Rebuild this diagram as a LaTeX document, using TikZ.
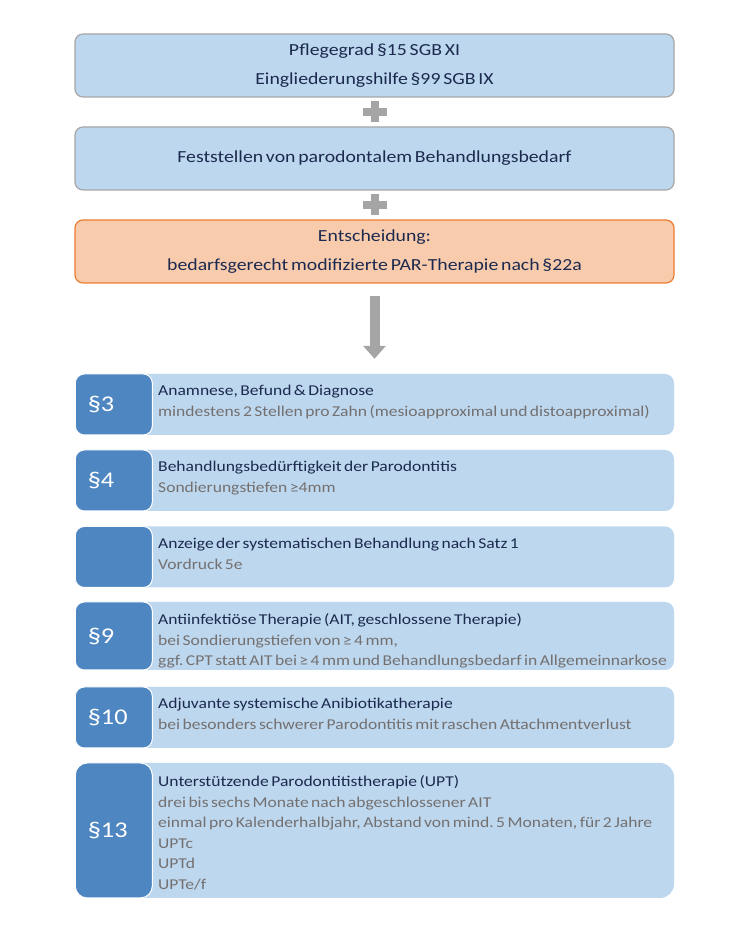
\documentclass[tikz,border=0pt]{standalone}
\usepackage{fontspec}
\setmainfont{Carlito}[FakeStretch=1.17, WordSpace=0.62]
\frenchspacing
\usetikzlibrary{arrows.meta,calc}

\definecolor{boxblue}{HTML}{BDD7EE}
\definecolor{tabblue}{HTML}{4E86C1}
\definecolor{boxgray}{HTML}{A6A6A6}
\definecolor{decfill}{HTML}{F8CBAD}
\definecolor{decline}{HTML}{ED7D31}
\definecolor{navy}{HTML}{1B2A4E}
\definecolor{subgray}{HTML}{747070}
\definecolor{plusgray}{HTML}{A5A5A5}

\tikzset{
    topbox/.style={draw=boxgray, line width=1.2pt, fill=boxblue, rounded corners=8pt,
        minimum width=599pt, minimum height=63pt, align=center, text=navy,
        font=\fontsize{16.9}{28.5}\selectfont},
    decbox/.style={topbox, draw=decline, fill=decfill},
    rowbox/.style={fill=boxblue, rounded corners=9pt, minimum width=599pt,
        minimum height=#1, inner sep=0pt},
    tabbox/.style={fill=tabblue, draw=white, line width=1pt, rounded corners=9pt,
        minimum width=77pt, minimum height=#1, text width=52pt, inner xsep=12.5pt,
        align=left, text=white, font=\fontsize{22.5}{22.5}\selectfont},
    rowtext/.style={anchor=west, align=left, text=subgray, inner sep=0pt,
        font=\fontsize{15}{20.5}\selectfont},
    bigarrow/.style={draw=plusgray, line width=10pt, -{Triangle[width=22pt,length=13pt]},
        shorten <=12pt, shorten >=15pt},
}

\begin{document}
\begin{tikzpicture}[x=1pt, y=1pt]
    \useasboundingbox (0, 0) rectangle (750, 949);
    \fill[white] (0, 0) rectangle (750, 949);

    % upper boxes
    \node[topbox] (pg)  at (374.5, 883.5) {Pflegegrad §15 SGB XI\\Eingliederungshilfe §99 SGB IX};
    \node[topbox] (fb)  at (374.5, 790.5) {Feststellen von parodontalem Behandlungsbedarf};
    \node[decbox] (ent) at (374.5, 697.5) {Entscheidung:\\bedarfsgerecht modifizierte PAR-Therapie nach §22a};

    \coordinate (p1) at ($(pg.south)!0.5!(fb.north)$);
    \coordinate (p2) at ($(fb.south)!0.5!(ent.north)$);
    \foreach \p in {p1, p2} {
        \fill[plusgray] ([shift={(-12pt, -4pt)}]\p) rectangle ([shift={(12pt, 4pt)}]\p);
        \fill[plusgray] ([shift={(-4pt, -10.5pt)}]\p) rectangle ([shift={(4pt, 10.5pt)}]\p);
    }

    % paragraphs
    \node[rowbox=61pt]  (s3)  at (374.5, 544.5) {};
    \node[rowbox=61pt]  (s4)  at (374.5, 468.5) {};
    \node[rowbox=61pt]  (sa)  at (374.5, 392) {};
    \node[rowbox=68pt]  (s9)  at (374.5, 313) {};
    \node[rowbox=61pt]  (s10) at (374.5, 231.5) {};
    \node[rowbox=135pt, rounded corners=14pt] (s13) at (374.5, 118.5) {};

    \node[tabbox=61pt,  anchor=west] (t3)  at (s3.west)  {§3};
    \node[tabbox=61pt,  anchor=west] (t4)  at (s4.west)  {§4};
    \node[tabbox=61pt,  anchor=west] (ta)  at (sa.west)  {};
    \node[tabbox=68pt,  anchor=west] (t9)  at (s9.west)  {§9};
    \node[tabbox=61pt,  anchor=west] (t10) at (s10.west) {§10};
    \node[tabbox=135pt, anchor=west, rounded corners=12pt] (t13) at (s13.west) {§13};

    \node[rowtext] (x3)  at (158, 547) {\textcolor{navy}{Anamnese, Befund \& Diagnose}\\
        mindestens 2 Stellen pro Zahn (mesioapproximal und distoapproximal)};
    \node[rowtext] (x4)  at (158, 471) {\textcolor{navy}{Behandlungsbedürftigkeit der Parodontitis}\\
        Sondierungstiefen ≥4mm};
    \node[rowtext] (xa)  at (158, 395) {\textcolor{navy}{Anzeige der systematischen Behandlung nach Satz 1}\\
        Vordruck 5e};
    \node[rowtext] (x9)  at (158, 308) {\textcolor{navy}{Antiinfektiöse Therapie (AIT, geschlossene Therapie)}\\
        bei Sondierungstiefen von ≥ 4 mm,\\
        ggf. CPT statt AIT bei ≥ 4 mm und Behandlungsbedarf in Allgemeinnarkose};
    \node[rowtext] (x10) at (158, 235) {\textcolor{navy}{Adjuvante systemische Anibiotikatherapie}\\
        bei besonders schwerer Parodontitis mit raschen Attachmentverlust};
    \node[rowtext] (x13) at (158, 116) {\textcolor{navy}{Unterstützende Parodontitistherapie (UPT)}\\
        drei bis sechs Monate nach abgeschlossener AIT\\
        einmal pro Kalenderhalbjahr, Abstand von mind. 5 Monaten, für 2 Jahre\\
        UPTc\\
        UPTd\\
        UPTe/f};

    \draw[bigarrow] (ent.south) -- (s3.north);
\end{tikzpicture}
\end{document}
